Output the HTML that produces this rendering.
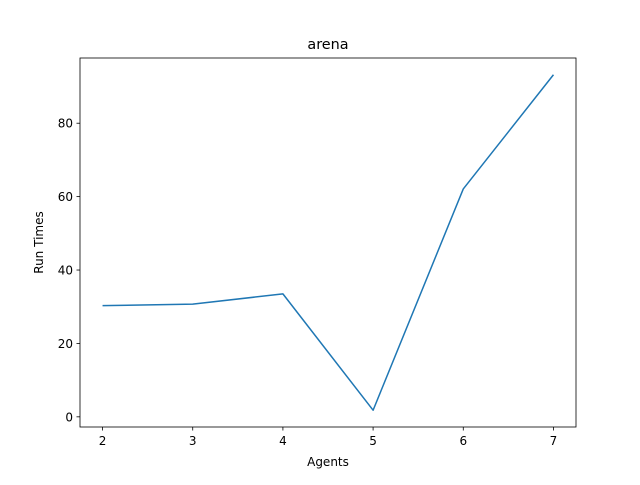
<!DOCTYPE html>
<html><head><meta charset="utf-8"><style>
body{margin:0;background:#fff;}
svg text{font-family:"DejaVu Sans","Liberation Sans",sans-serif;fill:#000;}
</style></head><body>
<svg width="640" height="480" viewBox="0 0 640 480">
<rect width="640" height="480" fill="#fff"/>
<g id="ticks"></g>
<polyline id="line" fill="none" stroke="#1f77b4" stroke-width="1.5" stroke-linejoin="round"/>
<rect x="80" y="58" width="496" height="369" fill="none" stroke="#000" stroke-width="0.8"/>
<text x="328" y="49" text-anchor="middle" font-size="14.4">arena</text>
<text x="328" y="466" text-anchor="middle" font-size="12">Agents</text>
<text x="0" y="0" transform="translate(43,242.5) rotate(-90)" text-anchor="middle" font-size="12">Run Times</text>
</svg>
<script>
const agents=[2,3,4,5,6,7];
const runTimes=[30.3,30.7,33.5,1.8,62.1,93.2];
const xTicks=[2,3,4,5,6,7];
const yTicks=[0,20,40,60,80];
const L=80,R=576,T=58,B=427;
const xmin=Math.min(...agents),xmax=Math.max(...agents);
const ymin0=Math.min(...runTimes),ymax0=Math.max(...runTimes);
const xm=(xmax-xmin)*0.05,ym=(ymax0-ymin0)*0.05;
const x=v=>L+(v-(xmin-xm))/((xmax+xm)-(xmin-xm))*(R-L);
const y=v=>B-(v-(ymin0-ym))/((ymax0+ym)-(ymin0-ym))*(B-T);
const ns="http://www.w3.org/2000/svg";
const g=document.getElementById('ticks');
xTicks.forEach(t=>{
  const l=document.createElementNS(ns,'line');
  l.setAttribute('x1',x(t));l.setAttribute('x2',x(t));l.setAttribute('y1',B);l.setAttribute('y2',B+3.5);
  l.setAttribute('stroke','#000');l.setAttribute('stroke-width','0.8');
  
  
  g.appendChild(l);
  const s=document.createElementNS(ns,'text');
  s.setAttribute('x',x(t));s.setAttribute('y',B+18);s.setAttribute('text-anchor','middle');s.setAttribute('font-size','12');
  s.textContent=t;
  
  
  g.appendChild(s);
});
yTicks.forEach(t=>{
  const l=document.createElementNS(ns,'line');
  l.setAttribute('x1',L-3.5);l.setAttribute('x2',L);l.setAttribute('y1',y(t));l.setAttribute('y2',y(t));
  l.setAttribute('stroke','#000');l.setAttribute('stroke-width','0.8');
  
  
  g.appendChild(l);
  const s=document.createElementNS(ns,'text');
  s.setAttribute('x',L-7);s.setAttribute('y',y(t)+4.5);s.setAttribute('text-anchor','end');s.setAttribute('font-size','12');
  s.textContent=t;
  
  
  g.appendChild(s);
});
document.getElementById('line').setAttribute('points',agents.map((a,i)=>x(a)+','+y(runTimes[i])).join(' '));
</script>
</body></html>
